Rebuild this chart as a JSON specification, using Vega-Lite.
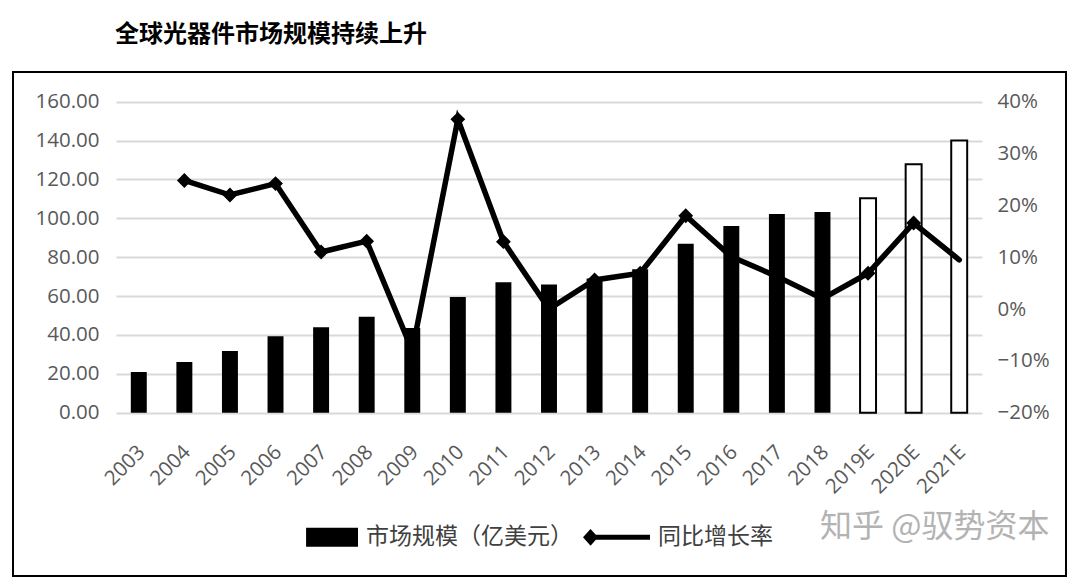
{
  "$schema": "https://vega.github.io/schema/vega-lite/v6.json",
  "width": 1053,
  "height": 504,
  "autosize": {"type": "none"},
  "padding": {"left": 13, "top": 72, "right": 14, "bottom": 9},
  "background": "white",
  "title": {
    "text": "全球光器件市场规模持续上升",
    "anchor": "start",
    "frame": "group",
    "dx": 102,
    "dy": 26,
    "offset": 27,
    "baseline": "bottom",
    "font": "Noto Sans CJK SC",
    "fontSize": 24,
    "fontWeight": "bold",
    "color": "#000000"
  },
  "data": {
    "values": [
      {"year": "2003", "size": 21.0, "growth": null, "type": "actual"},
      {"year": "2004", "size": 26.1, "growth": 0.248, "type": "actual"},
      {"year": "2005", "size": 31.7, "growth": 0.22, "type": "actual"},
      {"year": "2006", "size": 39.3, "growth": 0.242, "type": "actual"},
      {"year": "2007", "size": 43.9, "growth": 0.11, "type": "actual"},
      {"year": "2008", "size": 49.4, "growth": 0.131, "type": "actual"},
      {"year": "2009", "size": 43.6, "growth": -0.08, "type": "actual"},
      {"year": "2010", "size": 59.5, "growth": 0.366, "type": "actual"},
      {"year": "2011", "size": 67.1, "growth": 0.13, "type": "actual"},
      {"year": "2012", "size": 66.0, "growth": 0.0, "type": "actual"},
      {"year": "2013", "size": 69.1, "growth": 0.056, "type": "actual"},
      {"year": "2014", "size": 73.8, "growth": 0.069, "type": "actual"},
      {"year": "2015", "size": 86.9, "growth": 0.18, "type": "actual"},
      {"year": "2016", "size": 96.0, "growth": 0.101, "type": "actual"},
      {"year": "2017", "size": 102.2, "growth": 0.063, "type": "actual"},
      {"year": "2018", "size": 103.2, "growth": 0.02, "type": "actual"},
      {"year": "2019E", "size": 110.3, "growth": 0.069, "type": "estimate"},
      {"year": "2020E", "size": 127.8, "growth": 0.166, "type": "estimate"},
      {"year": "2021E", "size": 140.1, "growth": 0.095, "type": "estimate"}
    ]
  },
  "layer": [
    {
      "layer": [
        {
          "transform": [{"filter": "datum.type === 'actual'"}],
          "mark": {"type": "bar", "fill": "black"},
          "encoding": {
            "x": {
              "field": "year", "type": "ordinal", "sort": null,
              "scale": {"range": [103, 969], "paddingInner": 0.65, "paddingOuter": 0.325},
              "axis": {
                "orient": "bottom", "offset": -163.3, "labelAngle": -45,
                "labelAlign": "right", "labelBaseline": "middle",
                "labelPadding": 36, "labelOffset": 3,
                "domain": false, "ticks": false, "grid": false, "title": null,
                "labelFont": "Open Sans", "labelFontSize": 20.5, "labelColor": "#595959"
              }
            },
            "y": {
              "field": "size", "type": "quantitative",
              "scale": {"domain": [0, 160], "range": [340.7, 29.7], "nice": false, "zero": false},
              "axis": {
                "orient": "left", "offset": -90,
                "values": [0, 20, 40, 60, 80, 100, 120, 140, 160],
                "format": ".2f", "grid": true, "gridColor": "#d9d9d9", "gridWidth": 2,
                "domain": false, "ticks": false, "labelPadding": 4, "title": null,
                "labelFont": "Open Sans", "labelFontSize": 20.5, "labelColor": "#595959"
              }
            },
            "fill": {
              "datum": "市场规模（亿美元）",
              "scale": {"domain": ["市场规模（亿美元）", "同比增长率"], "range": ["#000000", "#000000"]},
              "legend": {
                "orient": "none", "legendX": 278, "legendY": 431.5,
                "direction": "horizontal", "padding": 0,
                "title": "知乎 @驭势资本", "titleOrient": "right",
                "titleAnchor": "middle", "titleBaseline": "middle",
                "titleFont": "Noto Sans CJK SC", "titleFontSize": 32,
                "titleFontWeight": "normal", "titleColor": "#b3b3b3", "titlePadding": 47,
                "titleLimit": 0,
                "labelFont": "Noto Sans CJK SC", "labelFontSize": 23, "labelColor": "#404040",
                "labelLimit": 0,
                "labelOffset": 8, "columnPadding": 10,
                "symbolSize": 4489, "symbolStrokeWidth": 0,
                "encode": {
                  "symbols": {
                    "update": {
                      "shape": [
                        {"test": "datum.value === '同比增长率'", "value": "M-1,0L-0.775,-0.25L-0.55,0L-0.775,0.25Z M-0.62,-0.075H1V0.075H-0.62Z"},
                        {"value": "M-0.55,-0.28H1V0.28H-0.55Z"}
                      ],
                      "fill": {"value": "#000000"},
                      "strokeWidth": {"value": 0}
                    }
                  }
                }
              }
            }
          }
        },
        {
          "transform": [{"filter": "datum.type === 'estimate'"}],
          "mark": {"type": "bar", "fill": "white", "stroke": "black", "strokeWidth": 2},
          "encoding": {
            "x": {"field": "year", "type": "ordinal", "sort": null},
            "y": {"field": "size", "type": "quantitative"}
          }
        }
      ]
    },
    {
      "layer": [
        {
          "mark": {"type": "line", "stroke": "black", "strokeWidth": 5.5, "strokeCap": "round"},
          "encoding": {
            "x": {"field": "year", "type": "ordinal", "sort": null},
            "y": {
              "field": "growth", "type": "quantitative",
              "scale": {"domain": [-0.2, 0.4], "range": [340.7, 29.7], "nice": false, "zero": false},
              "axis": {
                "orient": "right", "offset": -73,
                "values": [-0.2, -0.1, 0, 0.1, 0.2, 0.3, 0.4],
                "format": ".0%", "grid": false, "domain": false, "ticks": false,
                "labelPadding": 4, "title": null,
                "labelFont": "Open Sans", "labelFontSize": 20.5, "labelColor": "#595959"
              }
            }
          }
        },
        {
          "transform": [{"filter": "datum.year !== '2021E' && datum.growth !== null"}],
          "mark": {"type": "point", "shape": "diamond", "filled": true, "size": 220, "opacity": 1, "strokeWidth": 0},
          "encoding": {
            "x": {"field": "year", "type": "ordinal", "sort": null},
            "y": {"field": "growth", "type": "quantitative"},
            "fill": {"datum": "同比增长率"}
          }
        }
      ]
    }
  ],
  "resolve": {"scale": {"y": "independent"}},
  "config": {
    "view": {"stroke": "#000000", "strokeWidth": 2}
  }
}
